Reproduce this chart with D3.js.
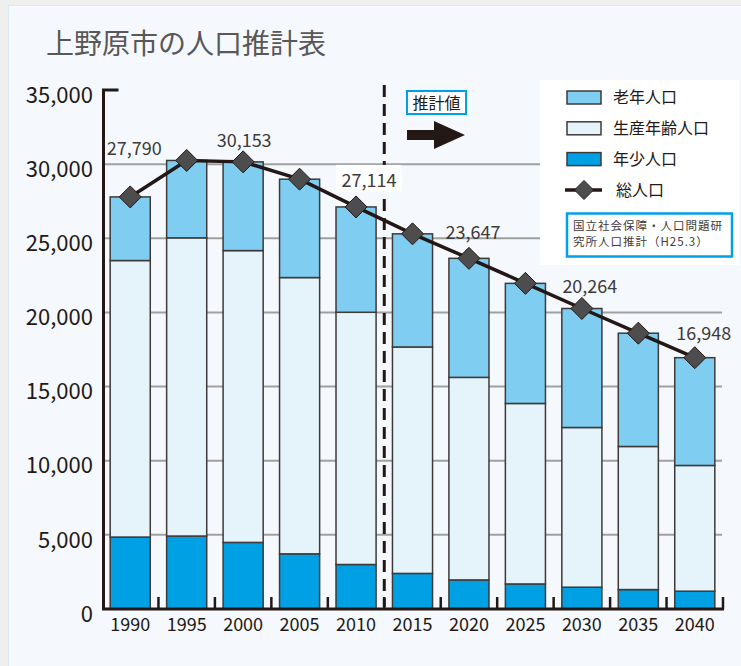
<!DOCTYPE html>
<html>
<head>
<meta charset="utf-8">
<script src="https://cdn.jsdelivr.net/npm/d3@7"></script>
<style>
    body { margin: 0; background: #efefed; }
    svg { display: block; font-family: "Noto Sans CJK JP", "Noto Sans", sans-serif; }
</style>
</head>
<body>
<div id="viz"></div>
<script>
// data
const years = ['1990', '1995', '2000', '2005', '2010', '2015', '2020', '2025', '2030', '2035', '2040']
const children = [4850, 4920, 4490, 3720, 3000, 2400, 1960, 1690, 1470, 1310, 1200]
const working = [18650, 20110, 19680, 18630, 17010, 15270, 13660, 12170, 10770, 9650, 8480]
const elderly = [4290, 5218, 5983, 6636, 7104, 7630, 8027, 8100, 8024, 7640, 7268]
const totals = [27790, 30248, 30153, 28986, 27114, 25300, 23647, 21960, 20264, 18600, 16948]
const labelYears = ['1990', '2000', '2010', '2020', '2030', '2040']
const yTicks = [0, 5000, 10000, 15000, 20000, 25000, 30000, 35000]

const seriesKeys = ['children', 'working', 'elderly']
const seriesNames = { elderly: '老年人口', working: '生産年齢人口', children: '年少人口' }
const colors = { elderly: '#7fcdf0', working: '#e5f3fb', children: '#00a0e4' }

// label nudges (layout only)
const labelShift = {
    '1990': [4, -42], '2000': [1, -15], '2010': [13, -20],
    '2020': [4, -19], '2030': [8, -16], '2040': [9, -18]
}

const table = years.map((y, i) => ({
    year: y, children: children[i], working: working[i], elderly: elderly[i], total: totals[i]
}))

const width = 741, height = 666

const svg = d3.select('#viz').append('svg')
    .attr('width', width)
    .attr('height', height)

// panel
svg.append('rect')
    .attr('x', 8.5).attr('y', 5.5)
    .attr('width', width).attr('height', height)
    .attr('fill', '#f5f9fd')
    .attr('stroke', '#d6eaf7')

svg.append('text')
    .attr('x', 46).attr('y', 54)
    .attr('font-size', 28)
    .attr('fill', '#595757')
    .text('上野原市の人口推計表')

const x = d3.scaleBand()
    .domain(years)
    .range([102, 723])
    .paddingInner(0.29)
    .paddingOuter(0.145)

const y = d3.scaleLinear()
    .domain([0, 35000])
    .range([609, 90])

const axisX = 103.5

// gridlines
svg.append('g').selectAll('line')
    .data(yTicks.filter(t => t > 0 && t < 35000))
    .enter().append('line')
    .attr('x1', axisX).attr('x2', 722)
    .attr('y1', d => y(d)).attr('y2', d => y(d))
    .attr('stroke', '#9fa0a0')
    .attr('stroke-width', 2)

// legend background covers gridlines
svg.append('rect')
    .attr('x', 540).attr('y', 80)
    .attr('width', 199).attr('height', 185)
    .attr('fill', '#fff')

// stacked bars
const stacked = d3.stack().keys(seriesKeys)(table)

svg.append('g').selectAll('g')
    .data(stacked)
    .enter().append('g')
    .attr('fill', d => colors[d.key])
    .selectAll('rect')
    .data(d => d)
    .enter().append('rect')
    .attr('x', d => x(d.data.year))
    .attr('y', d => y(d[1]))
    .attr('width', x.bandwidth())
    .attr('height', d => y(d[0]) - y(d[1]))
    .attr('stroke', '#3e3a39')
    .attr('stroke-width', 1.5)

// x axis ticks at band boundaries
const boundaries = years.slice(1).map(yr => x(yr) - x.step() * x.paddingInner() / 2)
boundaries.push(x.range()[1])
svg.append('g').selectAll('line')
    .data(boundaries)
    .enter().append('line')
    .attr('x1', d => d).attr('x2', d => d)
    .attr('y1', y(0)).attr('y2', y(0) - 12)
    .attr('stroke', '#231815')
    .attr('stroke-width', 2.5)

// axis lines
svg.append('path')
    .attr('d', `M${axisX + 15},${y(35000)}H${axisX}V${y(0)}H${x.range()[1] + 1}`)
    .attr('fill', 'none')
    .attr('stroke', '#231815')
    .attr('stroke-width', 3)

// y labels
svg.append('g').selectAll('text')
    .data(yTicks)
    .enter().append('text')
    .attr('x', 93)
    .attr('y', d => y(d) + 5)
    .attr('dy', '0.35em')
    .attr('text-anchor', 'end')
    .attr('font-size', 22)
    .attr('fill', '#231815')
    .text(d => d3.format(',')(d))

// x labels
svg.append('g').selectAll('text')
    .data(years)
    .enter().append('text')
    .attr('x', d => x(d) + x.bandwidth() / 2)
    .attr('y', 631)
    .attr('text-anchor', 'middle')
    .attr('font-size', 18)
    .attr('fill', '#231815')
    .text(d => d)

// estimate divider
const divX = x('2015') - x.step() * x.paddingInner() / 2
svg.append('line')
    .attr('x1', divX).attr('x2', divX)
    .attr('y1', 85).attr('y2', y(0) - 2)
    .attr('stroke', '#231815')
    .attr('stroke-width', 3)
    .attr('stroke-dasharray', '12,7')

// 推計値 marker
svg.append('rect')
    .attr('x', 407).attr('y', 91)
    .attr('width', 59).attr('height', 23)
    .attr('fill', '#fff')
    .attr('stroke', '#00a0e9')
    .attr('stroke-width', 2)
svg.append('text')
    .attr('x', 436.5).attr('y', 103)
    .attr('dy', '0.36em')
    .attr('text-anchor', 'middle')
    .attr('font-size', 16)
    .attr('fill', '#231815')
    .text('推計値')
svg.append('path')
    .attr('d', 'M407,130H434V121L465,135L434,149V140H407Z')
    .attr('fill', '#231815')

// total line
const cx = d => x(d.year) + x.bandwidth() / 2
const line = d3.line().x(cx).y(d => y(d.total))

svg.append('path')
    .datum(table)
    .attr('d', line)
    .attr('fill', 'none')
    .attr('stroke', '#231815')
    .attr('stroke-width', 3.5)

const diamond = (px, py, r) => `M${px},${py - r}L${px + r},${py}L${px},${py + r}L${px - r},${py}Z`

svg.append('g').selectAll('path')
    .data(table)
    .enter().append('path')
    .attr('d', d => diamond(cx(d), y(d.total), 11))
    .attr('fill', '#4d4d4d')
    .attr('stroke', '#231815')
    .attr('stroke-width', 1)

// total labels
const labels = svg.append('g').selectAll('g')
    .data(table.filter(d => labelYears.includes(d.year)))
    .enter().append('g')
    .attr('transform', d => `translate(${cx(d) + labelShift[d.year][0]},${y(d.total) + labelShift[d.year][1]})`)

labels.filter(d => d.year === '2010')
    .append('rect')
    .attr('x', -33).attr('y', -22)
    .attr('width', 66).attr('height', 27)
    .attr('fill', '#fff')

labels.append('text')
    .attr('text-anchor', 'middle')
    .attr('font-size', 18)
    .attr('fill', '#3e3a39')
    .text(d => d3.format(',')(d.total))

// legend
const legendItems = ['elderly', 'working', 'children']
const lg = svg.append('g')
lg.selectAll('rect')
    .data(legendItems)
    .enter().append('rect')
    .attr('x', 567).attr('y', (d, i) => 91 + i * 30.8)
    .attr('width', 34).attr('height', 13)
    .attr('fill', d => colors[d])
    .attr('stroke', '#3e3a39')
    .attr('stroke-width', 1.5)
lg.selectAll('text')
    .data(legendItems)
    .enter().append('text')
    .attr('x', 613).attr('y', (d, i) => 97.7 + i * 30.8)
    .attr('dy', '0.36em')
    .attr('font-size', 16)
    .attr('fill', '#231815')
    .text(d => seriesNames[d])

lg.append('line')
    .attr('x1', 565).attr('x2', 602)
    .attr('y1', 190).attr('y2', 190)
    .attr('stroke', '#231815')
    .attr('stroke-width', 3.5)
lg.append('path')
    .attr('d', diamond(584, 190, 9.5))
    .attr('fill', '#4d4d4d')
    .attr('stroke', '#231815')
lg.append('text')
    .attr('x', 616).attr('y', 190)
    .attr('dy', '0.36em')
    .attr('font-size', 16)
    .attr('fill', '#231815')
    .text('総人口')

// source note
lg.append('rect')
    .attr('x', 567).attr('y', 213.5)
    .attr('width', 165).attr('height', 43)
    .attr('fill', '#fff')
    .attr('stroke', '#00a0e9')
    .attr('stroke-width', 2.5)
lg.selectAll('.src')
    .data(['国立社会保障・人口問題研', '究所人口推計（H25.3）'])
    .enter().append('text')
    .attr('class', 'src')
    .attr('x', 573)
    .attr('y', (d, i) => 225.5 + i * 16.5)
    .attr('dy', '0.36em')
    .attr('font-size', 11.5)
    .attr('letter-spacing', 1)
    .attr('fill', '#3e3a39')
    .text(d => d)
</script>
</body>
</html>
